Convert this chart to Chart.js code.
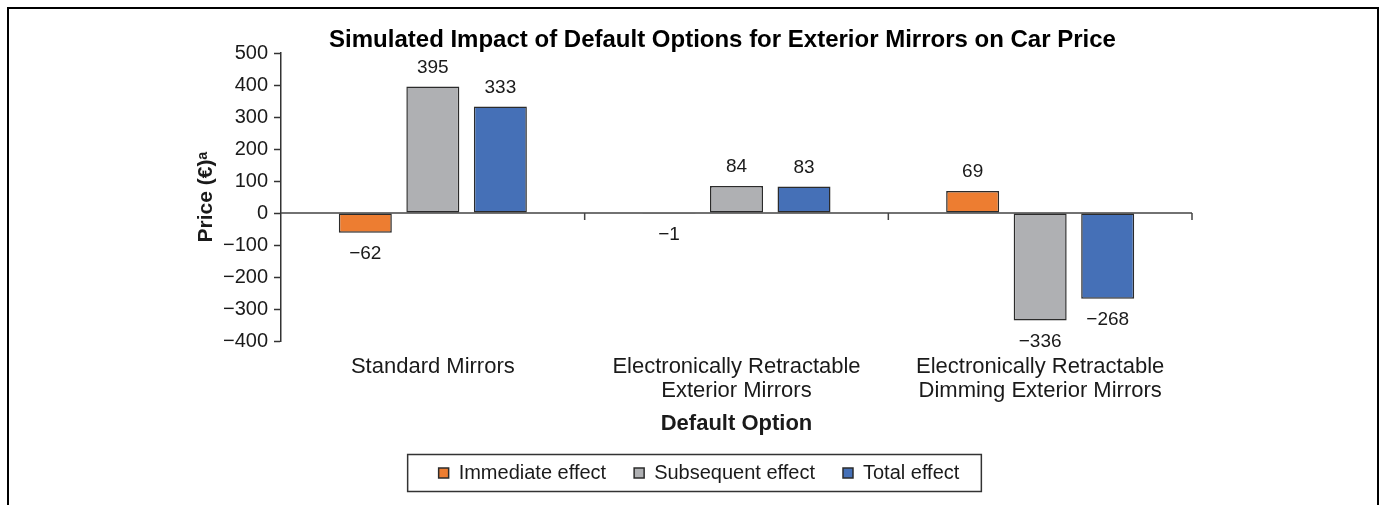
<!DOCTYPE html>
<html>
<head>
<meta charset="utf-8">
<script src="https://cdn.jsdelivr.net/npm/chart.js@4.4.1/dist/chart.umd.min.js"></script>
<style>
  html, body { margin: 0; padding: 0; background: #fff; overflow: hidden; }
  #wrap { position: relative; width: 1380px; height: 505px; }
  #frame { position: absolute; left: 7px; top: 7px; width: 1368px; height: 600px; border: 2px solid #000; pointer-events: none; }
  canvas { position: absolute; left: 0; top: 0; }
</style>
</head>
<body>
<div id="wrap">
  <canvas id="chart" width="1380" height="505"></canvas>
  <div id="frame"></div>
</div>
<script>
// values
const titleText = 'Simulated Impact of Default Options for Exterior Mirrors on Car Price';
const categories = [
  ['Standard Mirrors'],
  ['Electronically Retractable', 'Exterior Mirrors'],
  ['Electronically Retractable', 'Dimming Exterior Mirrors']
];
const seriesNames = ['Immediate effect', 'Subsequent effect', 'Total effect'];
const immediateEffect = [-62, -1, 69];
const subsequentEffect = [395, 84, -336];
const totalEffect = [333, 83, -268];
const yTickValues = [500, 400, 300, 200, 100, 0, -100, -200, -300, -400];

const FONT = "'Liberation Sans', Arial, sans-serif";
const TEXT = '#1a1a1a';
const EDGE = '#2b2b2b';
const LEGEND_SHIFT = 8; // legend sits a little right of the page centre
Chart.defaults.font.family = FONT;

// use a real minus sign like the original
const minus = v => String(v).replace('-', '\u2212');

const chartTitle = {
  id: 'chartTitle',
  afterDraw(chart) {
    const { ctx, chartArea } = chart;
    ctx.save();
    ctx.font = `bold 24px ${FONT}`;
    ctx.fillStyle = '#000';
    ctx.textAlign = 'center';
    ctx.textBaseline = 'alphabetic';
    ctx.fillText(titleText, (chartArea.left + chartArea.right) / 2 - 14, chartArea.top - 6);
    ctx.restore();
  }
};

// zero line with small ticks between the categories
const zeroAxis = {
  id: 'zeroAxis',
  beforeDatasetsDraw(chart) {
    const { ctx, chartArea, scales: { x, y } } = chart;
    const y0 = y.getPixelForValue(0);
    ctx.save();
    ctx.strokeStyle = '#444';
    ctx.lineWidth = 1.5;
    ctx.beginPath();
    ctx.moveTo(chartArea.left, y0);
    ctx.lineTo(chartArea.right, y0);
    for (let i = 0; i < categories.length; i++) {
      const edge = i < categories.length - 1
        ? (x.getPixelForValue(i) + x.getPixelForValue(i + 1)) / 2
        : chartArea.right;
      ctx.moveTo(edge, y0);
      ctx.lineTo(edge, y0 + 7);
    }
    ctx.stroke();
    ctx.restore();
  }
};

const valueLabels = {
  id: 'valueLabels',
  afterDatasetsDraw(chart) {
    const { ctx } = chart;
    ctx.save();
    ctx.font = `19px ${FONT}`;
    ctx.fillStyle = TEXT;
    ctx.textAlign = 'center';
    ctx.textBaseline = 'middle';
    chart.data.datasets.forEach((ds, i) => {
      chart.getDatasetMeta(i).data.forEach((bar, j) => {
        const v = ds.data[j];
        ctx.fillText(minus(v), bar.x, v >= 0 ? bar.y - 19 : bar.y + 21);
      });
    });
    ctx.restore();
  }
};

// nudge the legend and draw its frame
const legendFrame = {
  id: 'legendFrame',
  afterUpdate(chart) {
    const lg = chart.legend;
    lg.left += LEGEND_SHIFT;
    lg.right += LEGEND_SHIFT;
    (lg.legendHitBoxes || []).forEach(b => { b.left += LEGEND_SHIFT; });
  },
  afterDraw(chart) {
    const boxes = chart.legend.legendHitBoxes;
    if (!boxes || !boxes.length) return;
    const { ctx } = chart;
    const left = Math.min(...boxes.map(b => b.left)) - 31;
    const right = Math.max(...boxes.map(b => b.left + b.width)) + 22;
    const cy = boxes[0].top + boxes[0].height / 2;
    ctx.save();
    ctx.strokeStyle = '#333';
    ctx.lineWidth = 1.5;
    ctx.strokeRect(left, cy - 18.5, right - left, 37);
    ctx.restore();
  }
};

new Chart(document.getElementById('chart'), {
  type: 'bar',
  data: {
    labels: categories,
    datasets: [
      { label: seriesNames[0], data: immediateEffect, backgroundColor: '#ED7D31' },
      { label: seriesNames[1], data: subsequentEffect, backgroundColor: '#AFB0B3' },
      { label: seriesNames[2], data: totalEffect, backgroundColor: '#4570B7' }
    ].map(ds => Object.assign(ds, {
      borderColor: EDGE,
      borderWidth: 1.5,
      borderSkipped: false,
      categoryPercentage: 0.667,
      barPercentage: 0.785
    }))
  },
  options: {
    responsive: false,
    animation: false,
    layout: { padding: { left: 190, right: 188, top: 53, bottom: 12 } },
    plugins: {
      title: { display: false },
      tooltip: { enabled: false },
      legend: {
        position: 'bottom',
        labels: {
          boxWidth: 10,
          boxHeight: 10,
          padding: 28,
          color: TEXT,
          font: { size: 20 }
        }
      }
    },
    scales: {
      x: {
        grid: { display: false, drawTicks: false },
        border: { display: false },
        ticks: {
          color: TEXT,
          font: { size: 22, lineHeight: 1.1 },
          padding: 14,
          maxRotation: 0,
          autoSkip: false
        },
        title: {
          display: true,
          text: 'Default Option',
          color: TEXT,
          font: { size: 22, weight: 'bold' },
          padding: { top: 0, bottom: -2 }
        },
        afterFit: s => { s.height = 94; }
      },
      y: {
        min: -400,
        max: 500,
        afterBuildTicks: s => { s.ticks = yTickValues.map(v => ({ value: v })); },
        grid: {
          display: true,
          drawOnChartArea: false,
          drawTicks: true,
          tickLength: 7,
          tickColor: '#333',
          tickWidth: 1.5
        },
        border: { display: true, color: '#333', width: 1.5 },
        ticks: {
          color: TEXT,
          font: { size: 20 },
          padding: 6,
          callback: v => minus(v)
        },
        title: {
          display: true,
          text: 'Price (€)ᵃ',
          color: TEXT,
          font: { size: 21, weight: 'bold' },
          padding: { top: 4, bottom: 0 }
        },
        afterFit: s => { s.width = 91; }
      }
    }
  },
  plugins: [chartTitle, zeroAxis, valueLabels, legendFrame]
});
</script>
</body>
</html>
